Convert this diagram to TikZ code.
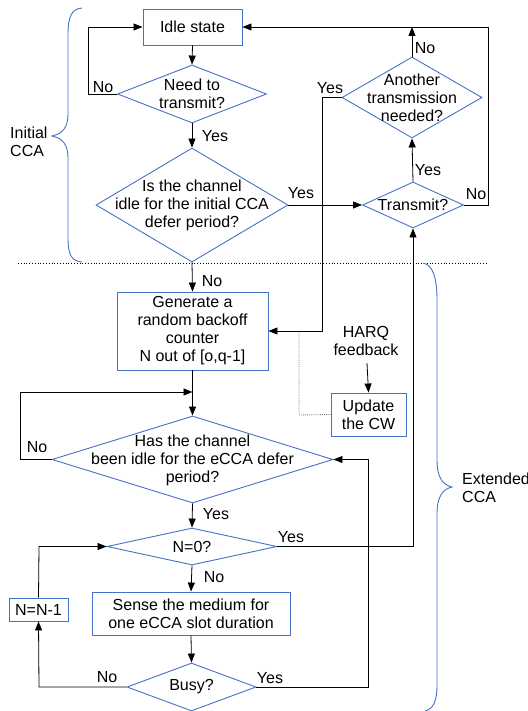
\documentclass[tikz,border=0pt]{standalone}
\usepackage{fontspec}
\setmainfont{Liberation Sans}
\usetikzlibrary{shapes.geometric,arrows.meta}
\definecolor{shapeblue}{RGB}{68,114,196}
\tikzset{
  every node/.style={font=\fontsize{16}{18}\selectfont, inner sep=0pt},
  boxnode/.style={draw=shapeblue, line width=0.9pt, rectangle, align=center},
  dia/.style={draw=shapeblue, line width=0.9pt, diamond, shape aspect=1},
  txt/.style={align=center},
  lbl/.style={},
  con/.style={draw=black, line width=0.8pt},
  arr/.style={con, -{Triangle[length=9pt,width=7pt]}},
  brace/.style={draw=shapeblue, line width=0.9pt},
}
\begin{document}
\begin{tikzpicture}[x=1pt,y=-1pt]
\useasboundingbox (0,0) rectangle (527,711);
\clip (0,0) rectangle (527,711);

% ---- nodes ----
\node[boxnode, minimum width=99pt, minimum height=36pt] (idle) at (192.5,27) {Idle state};
\node[dia, minimum width=149pt, minimum height=58pt] (need) at (192,94) {};
\node[txt] at (192,94) {Need to\\transmit?};
\node[dia, minimum width=192pt, minimum height=114pt] (chan) at (192,205) {};
\node[txt] at (192,205) {Is the channel\\idle for the initial CCA\\defer period?};
\node[dia, minimum width=101pt, minimum height=46pt] (tx) at (413,205) {};
\node[txt] at (413,205) {Transmit?};
\node[dia, minimum width=140pt, minimum height=81pt] (another) at (412,97.5) {};
\node[txt] at (412,97.5) {Another\\transmission\\needed?};
\node[boxnode, minimum width=151pt, minimum height=78pt] (gen) at (192.5,331) {Generate a\\random backoff\\counter\\N out of [o,q-1]};
\node[boxnode, minimum width=75pt, minimum height=43pt] (upd) at (368.5,414.5) {Update\\the CW};
\node[txt] (harq) at (366,341) {HARQ\\feedback};
\node[dia, minimum width=281pt, minimum height=87pt] (ecca) at (192.5,459.5) {};
\node[txt] at (192.5,460) {Has the channel\\been idle for the eCCA defer\\period?};
\node[dia, minimum width=170pt, minimum height=37pt] (nz) at (192,546.5) {};
\node[txt] at (192,547) {N=0?};
\node[boxnode, minimum width=198pt, minimum height=43pt] (sense) at (191,613.5) {Sense the medium for\\one eCCA slot duration};
\node[dia, minimum width=129pt, minimum height=48pt] (busy) at (191.5,687) {};
\node[txt] at (191.5,687) {Busy?};
\node[boxnode, minimum width=59pt, minimum height=23pt] (dec) at (38.5,609.5) {N=N-1};

% ---- helper coordinates ----
\coordinate (cR) at (488,27);
\coordinate (cL) at (88,27);
\coordinate (cA) at (322,97.5);
\coordinate (cAb) at (322,331);
\coordinate (cD) at (299,331);
\coordinate (cDb) at (299,415);
\coordinate (cH) at (367,363);
\coordinate (cE) at (20,392);
\coordinate (cEb) at (20,459.5);
\coordinate (cM) at (192.5,392);
\coordinate (cY) at (413,546.5);
\coordinate (cB) at (368,687);
\coordinate (cBt) at (368,459.5);
\coordinate (cN) at (39,546.5);
\coordinate (cNb) at (39,687);

% ---- connectors ----
\draw[arr] (idle.south) -- (need.north);
\draw[arr] (need.west) -| (cL) -- (idle.west);
\draw[arr] (need.south) -- (chan.north);
\draw[arr] (chan.east) -- (tx.west);
\draw[arr] (tx.north) -- (another.south);
\draw[arr] (another.north) -- (another.north |- cR);
\draw[arr] (tx.east) -| (cR) -- (idle.east);
\draw[arr] (another.west) -- (cA) -- (cAb) -- (gen.east);
\draw[arr] (chan.south) -- (gen.north);
\draw[densely dotted, gray, line width=0.9pt] (upd.west) -- (cDb) -- (cD);
\draw[arr] (cH) -- (upd.north);
\draw[arr] (gen.south) -- (ecca.north);
\draw[arr] (ecca.west) -- (cEb) -- (cE) -- (cM);
\draw[arr] (ecca.south) -- (nz.north);
\draw[arr] (nz.east) -- (cY) -- (tx.south);
\draw[arr] (nz.south) -- (sense.north);
\draw[arr] (sense.south) -- (busy.north);
\draw[arr] (busy.west) -- (cNb) -- (dec.south);
\draw[arr] (dec.north) -- (cN) -- (nz.west);
\draw[arr] (busy.east) -- (cB) -- (cBt) -- (ecca.east);

% separator
\draw[dotted, line width=0.8pt] (18,263) -- (488,263);

% ---- labels ----
\node[lbl] at (103,87) {No};
\node[lbl] at (215,136) {Yes};
\node[lbl] at (301,193) {Yes};
\node[lbl] at (330,88) {Yes};
\node[lbl] at (425,48) {No};
\node[lbl] at (428,170) {Yes};
\node[lbl] at (476,194) {No};
\node[lbl] at (212,281) {No};
\node[lbl] at (37,447) {No};
\node[lbl] at (216,514) {Yes};
\node[lbl] at (291,537) {Yes};
\node[lbl] at (214,577) {No};
\node[lbl] at (107,677) {No};
\node[lbl] at (270,678) {Yes};
\node[align=left, anchor=west] at (10,142) {Initial\\CCA};
\node[align=left, anchor=west] at (462,488) {Extended\\CCA};

% ---- braces ----
\draw[brace] (82,8) .. controls (72,9) and (68,16) .. (68,34)
  -- (68,114) .. controls (68,128) and (62,134) .. (52,136)
  .. controls (62,138) and (68,144) .. (68,158)
  -- (68,238) .. controls (68,256) and (72,261) .. (82,262);
\draw[brace] (423,263) .. controls (433,265) and (437,278) .. (437,300)
  -- (437,460) .. controls (437,478) and (443,485) .. (452,487)
  .. controls (443,489) and (437,496) .. (437,514)
  -- (437,685) .. controls (437,702) and (433,709) .. (425,711);
\end{tikzpicture}
\end{document}
